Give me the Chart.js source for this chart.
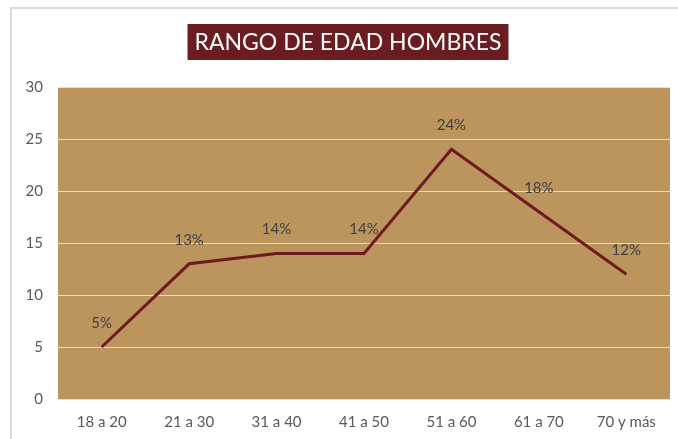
<!DOCTYPE html>
<html>
<head>
<meta charset="utf-8">
<script src="https://cdn.jsdelivr.net/npm/chart.js@4"></script>
<style>
  html, body { margin: 0; padding: 0; background: #fff; }
  #wrap { width: 678px; height: 439px; }
</style>
</head>
<body>
<div id="wrap"><canvas id="chart" width="678" height="439"></canvas></div>
<script>
var chartTitle = 'RANGO DE EDAD HOMBRES';
var ageRanges = ['18 a 20', '21 a 30', '31 a 40', '41 a 50', '51 a 60', '61 a 70', '70 y más'];
var menValues = [5, 13, 14, 14, 24, 18, 12];
var pctLabels = ['5%', '13%', '14%', '14%', '24%', '18%', '12%'];

var fontName = 'Lato, "Open Sans", sans-serif';

// frame, plot background and title box
var backdrop = {
    id: 'backdrop',
    beforeDraw(chart) {
        var ctx = chart.ctx;
        var a = chart.chartArea;
        ctx.save();
        ctx.strokeStyle = '#d9d9d9';
        ctx.lineWidth = 2;
        ctx.beginPath();
        ctx.moveTo(11, 439);
        ctx.lineTo(11, 8);
        ctx.lineTo(678, 8);
        ctx.stroke();

        ctx.fillStyle = '#bc945e';
        ctx.fillRect(a.left, a.top, a.right - a.left, a.bottom - a.top);

        ctx.font = '23px ' + fontName;
        var w = ctx.measureText(chartTitle).width;
        var cx = 348;
        ctx.fillStyle = '#6b1c20';
        ctx.fillRect(cx - w / 2 - 7, 24, w + 14, 36);
        ctx.fillStyle = '#ffffff';
        ctx.textAlign = 'center';
        ctx.textBaseline = 'middle';
        ctx.fillText(chartTitle, cx, 43);
        ctx.restore();
    }
};

// percent labels above each point
var pointLabels = {
    id: 'pointLabels',
    afterDatasetsDraw(chart) {
        var ctx = chart.ctx;
        var meta = chart.getDatasetMeta(0);
        ctx.save();
        ctx.font = '15px ' + fontName;
        ctx.fillStyle = '#404040';
        ctx.textAlign = 'center';
        ctx.textBaseline = 'middle';
        meta.data.forEach(function (pt, i) {
            ctx.fillText(pctLabels[i], pt.x, pt.y - 24);
        });
        ctx.restore();
    }
};

var chart = new Chart(document.getElementById('chart'), {
    type: 'line',
    data: {
        labels: ageRanges,
        datasets: [{
            data: menValues,
            borderColor: '#6e1a1f',
            borderWidth: 3,
            pointRadius: 0,
            tension: 0,
            fill: false
        }]
    },
    options: {
        responsive: false,
        animation: false,
        layout: { padding: { top: 87, right: 8, left: 0, bottom: 0 } },
        plugins: {
            legend: { display: false },
            title: { display: false },
            tooltip: { enabled: false }
        },
        scales: {
            x: {
                offset: true,
                grid: { display: false, drawTicks: false },
                border: { display: false },
                ticks: { color: '#595959', padding: 14, font: { family: fontName, size: 15 } },
                afterFit: function (s) { s.height = 40; }
            },
            y: {
                min: 0,
                max: 30,
                ticks: { stepSize: 5, color: '#595959', padding: 15, font: { family: fontName, size: 15 } },
                grid: { color: '#e6dccb', lineWidth: 1, drawTicks: false },
                border: { display: false },
                afterFit: function (s) { s.width = 58; }
            }
        }
    },
    plugins: [backdrop, pointLabels]
});
</script>
</body>
</html>
